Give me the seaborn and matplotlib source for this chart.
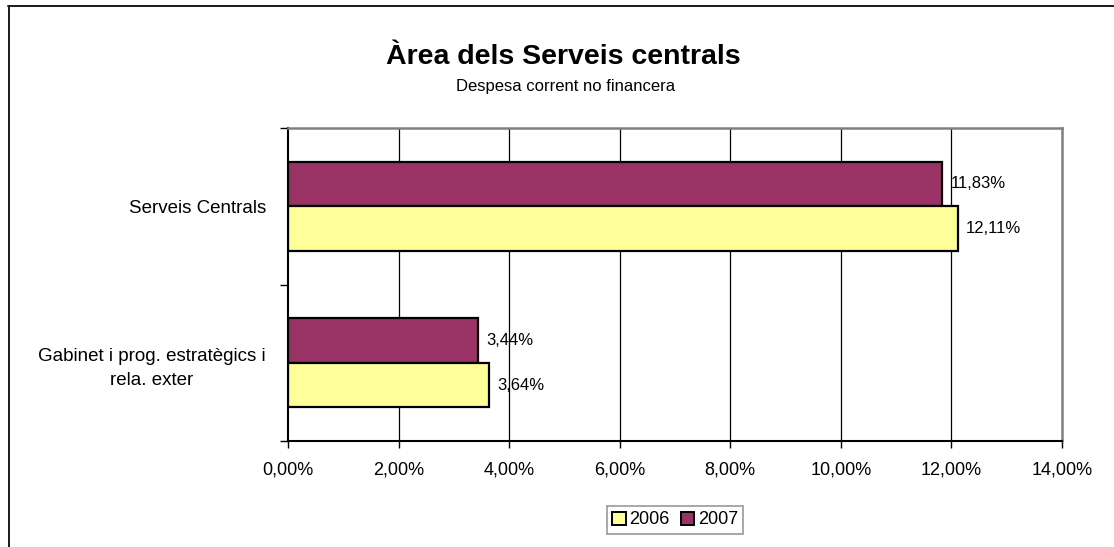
import matplotlib
matplotlib.use("Agg")
import matplotlib.pyplot as plt
from matplotlib.lines import Line2D
from matplotlib.patches import Patch
from matplotlib.ticker import FuncFormatter, FixedLocator
import seaborn as sns
import pandas as pd

categories = ["Serveis Centrals", "Gabinet i prog. estratègics i\nrela. exter"]
years = ["2006", "2007"]
values_2006 = [12.11, 3.64]
values_2007 = [11.83, 3.44]
xticks = [0, 2, 4, 6, 8, 10, 12, 14]
colors = {"2006": "#FFFF99", "2007": "#993366"}

df = pd.DataFrame({
    "categoria": categories * 2,
    "any": ["2006"] * len(categories) + ["2007"] * len(categories),
    "valor": values_2006 + values_2007,
})

sns.set_style("white")
plt.rcParams["font.family"] = ["Liberation Sans", "DejaVu Sans"]
plt.rcParams["text.color"] = "black"
plt.rcParams["axes.labelcolor"] = "black"
plt.rcParams["xtick.color"] = "black"
plt.rcParams["ytick.color"] = "black"

fig = plt.figure(figsize=(11.14, 5.47), dpi=100)
ax = fig.add_axes([288 / 1114, 1 - 441 / 547, (1062 - 288) / 1114, (441 - 128) / 547])

sns.barplot(data=df, y="categoria", x="valor", hue="any", hue_order=["2007", "2006"],
            order=categories, palette=colors, orient="h", width=0.57,
            edgecolor="black", linewidth=1.6, ax=ax, legend=False, saturation=1)

ax.set_xlim(0, 14)
ax.set_ylim(1.5, -0.5)
ax.set_xlabel("")
ax.set_ylabel("")

ax.xaxis.set_major_locator(FixedLocator(xticks))
ax.xaxis.set_major_formatter(FuncFormatter(lambda v, p: f"{v:.2f}".replace(".", ",") + "%"))
ax.tick_params(axis="x", bottom=True, direction="out", length=5, width=1, color="black",
               labelcolor="black", labelsize=13, pad=10)

ax.yaxis.set_major_locator(FixedLocator([-0.5, 0.5, 1.5]))
ax.yaxis.set_major_formatter(FuncFormatter(lambda v, p: ""))
ax.yaxis.set_minor_locator(FixedLocator([0, 1]))
ax.set_yticklabels(categories, minor=True, multialignment="center", linespacing=1.55)
ax.tick_params(axis="y", which="major", left=True, direction="out", length=6, width=1,
               color="black")
ax.tick_params(axis="y", which="minor", left=True, length=0, labelsize=13.5, pad=16,
               labelcolor="black")

for v in xticks[1:-1]:
    ax.axvline(v, color="black", lw=0.9, zorder=0)

for s in ["left", "bottom"]:
    ax.spines[s].set_color("black")
    ax.spines[s].set_linewidth(1.5)
for s in ["top", "right"]:
    ax.spines[s].set_color("#808080")
    ax.spines[s].set_linewidth(1.8)
    ax.spines[s].set_visible(True)

for cont in ax.containers:
    ax.bar_label(cont, labels=[f"{b.get_width():.2f}".replace(".", ",") + "%" for b in cont],
                 padding=6, fontsize=12, color="black")

fig.text(563 / 1114, 1 - 57 / 547, "Àrea dels Serveis centrals", ha="center", va="center",
         fontsize=20.5, fontweight="bold", color="black")
fig.text(566 / 1114, 1 - 86 / 547, "Despesa corrent no financera", ha="center", va="center",
         fontsize=12, color="black")

handles = [Patch(facecolor=colors[y], edgecolor="black", linewidth=1.4) for y in years]
leg = fig.legend(handles, years, loc="center", bbox_to_anchor=(675 / 1114, 1 - 520 / 547),
                 ncol=2, frameon=True, fancybox=False, edgecolor="#808080", fontsize=13,
                 handlelength=0.75, handleheight=0.75, handletextpad=0.2, columnspacing=0.6,
                 borderpad=0.3, labelcolor="black")
leg.get_frame().set_linewidth(1.2)

fig.add_artist(Line2D([8.5 / 1114, 8.5 / 1114], [0, 1 - 6 / 547], transform=fig.transFigure,
                      color="#1a1a1a", lw=1.4))
fig.add_artist(Line2D([8 / 1114, 1.0], [1 - 6 / 547, 1 - 6 / 547], transform=fig.transFigure,
                      color="#1a1a1a", lw=1.4))

fig.savefig("out.png", dpi=100)
